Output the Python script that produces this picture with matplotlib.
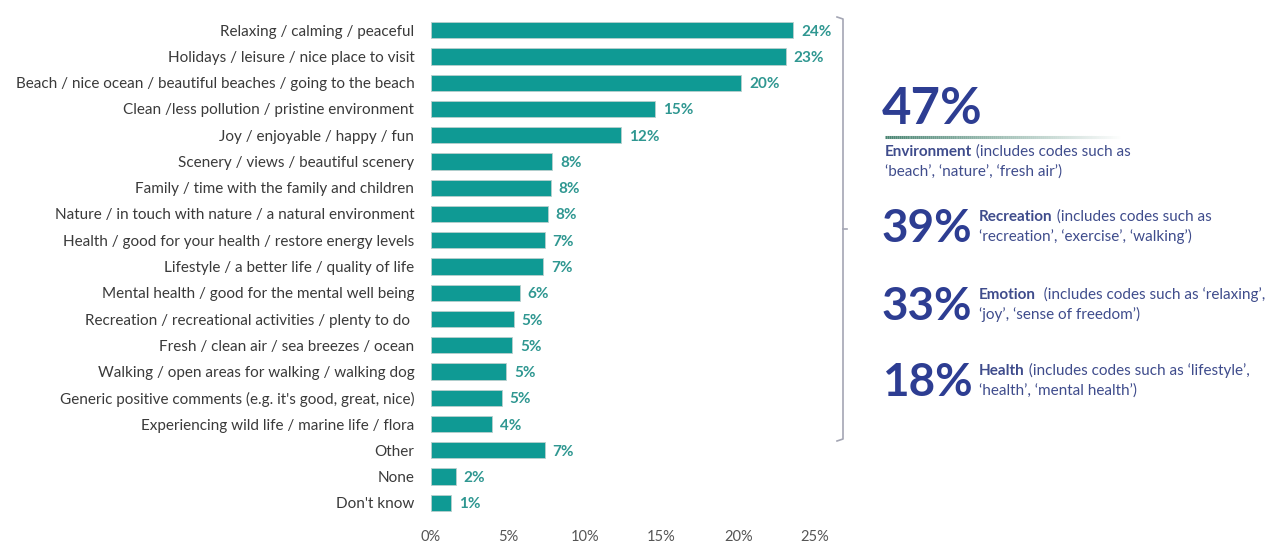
import matplotlib
matplotlib.use('Agg')
import matplotlib.pyplot as plt
from matplotlib.collections import LineCollection
from matplotlib.lines import Line2D
import numpy as np

plt.rcParams['font.family'] = ['Lato', 'DejaVu Sans']

categories = [
    'Relaxing / calming / peaceful',
    'Holidays / leisure / nice place to visit',
    'Beach / nice ocean / beautiful beaches / going to the beach',
    'Clean /less pollution / pristine environment',
    'Joy / enjoyable / happy / fun',
    'Scenery / views / beautiful scenery',
    'Family / time with the family and children',
    'Nature / in touch with nature / a natural environment',
    'Health / good for your health / restore energy levels',
    'Lifestyle / a better life / quality of life',
    'Mental health / good for the mental well being',
    'Recreation / recreational activities / plenty to do ',
    'Fresh / clean air / sea breezes / ocean',
    'Walking / open areas for walking / walking dog',
    "Generic positive comments (e.g. it's good, great, nice)",
    'Experiencing wild life / marine life / flora',
    'Other',
    'None',
    "Don't know",
]
shares = [23.6, 23.1, 20.2, 14.6, 12.4, 7.9, 7.8, 7.6, 7.4, 7.3,
          5.8, 5.4, 5.3, 4.9, 4.6, 4.0, 7.4, 1.6, 1.3]
x_ticks = [0, 5, 10, 15, 20, 25]

theme_pcts = ['47%', '39%', '33%', '18%']
theme_names = ['Environment', 'Recreation', 'Emotion', 'Health']
theme_rest = [
    [' (includes codes such as', '\u2018beach\u2019, \u2018nature\u2019, \u2018fresh air\u2019)'],
    [' (includes codes such as', '\u2018recreation\u2019, \u2018exercise\u2019, \u2018walking\u2019)'],
    ['  (includes codes such as \u2018relaxing\u2019,', '\u2018joy\u2019, \u2018sense of freedom\u2019)'],
    [' (includes codes such as \u2018lifestyle\u2019,', '\u2018health\u2019, \u2018mental health\u2019)'],
]

W, H = 1273, 544
BAR = '#0f9a94'
VAL = '#2f9791'
NAVY = '#2d3d92'
SLATE = '#3f4c8c'


def fx(px):
    return px / W


def fy(py):
    return 1 - py / H


fig = plt.figure(figsize=(W / 100, H / 100), dpi=100)
ax = fig.add_axes([fx(431), fy(516), fx(815) - fx(431), fy(17) - fy(516)])

y = np.arange(len(categories))
ax.barh(y, shares, height=0.62, color=BAR, edgecolor='#b9cfcd', linewidth=0.6)
for yi, v in zip(y, shares):
    ax.text(v + 0.5, yi, f'{round(v):d}%', va='center_baseline', ha='left',
            fontsize=11, fontweight='bold', color=VAL, clip_on=False)

ax.set_xlim(0, 25)
ax.set_ylim(len(categories) - 0.5, -0.5)
ax.set_yticks(y)
ax.set_yticklabels(categories, fontsize=11, color='#3a3a3a')
ax.set_xticks(x_ticks)
ax.set_xticklabels([f'{t}%' for t in x_ticks], fontsize=10.5, color='#555555')
ax.tick_params(axis='y', length=0, pad=12)
ax.tick_params(axis='x', length=0, pad=10)
for s in ax.spines.values():
    s.set_visible(False)

# bracket grouping the coded answers
bx = 843
gray = '#a4a6b4'
fig.add_artist(Line2D([fx(837), fx(bx), fx(bx), fx(837)],
                      [fy(17), fy(19), fy(439), fy(441)],
                      transform=fig.transFigure, color=gray, lw=1.2))
fig.add_artist(Line2D([fx(bx), fx(847)], [fy(229), fy(229)],
                      transform=fig.transFigure, color=gray, lw=1.2))

# headline figure with fading underline
fig.text(fx(882), fy(110), theme_pcts[0], fontsize=36.5, fontweight='bold',
         color=NAVY, va='center', ha='left')
n = 120
xs = np.linspace(fx(885), fx(1120), n + 1)
segs = [[(xs[i], fy(137)), (xs[i + 1], fy(137))] for i in range(n)]
cols = [(0.29, 0.52, 0.45, 1 - i / n) for i in range(n)]
fig.add_artist(LineCollection(segs, colors=cols, linewidths=2.2,
                              transform=fig.transFigure))

fig.canvas.draw()
renderer = fig.canvas.get_renderer()


def two_part(x, yb, bold, rest, size=11):
    t = fig.text(fx(x), fy(yb), bold, fontsize=size, fontweight='bold',
                 color=SLATE, va='baseline', ha='left')
    bb = t.get_window_extent(renderer)
    fig.text(fx(x + bb.width), fy(yb), rest, fontsize=size,
             color=SLATE, va='baseline', ha='left')


two_part(885, 156, theme_names[0], theme_rest[0][0])
fig.text(fx(885), fy(176), theme_rest[0][1], fontsize=11, color=SLATE,
         va='baseline', ha='left')

# remaining themes: big number with two description lines beside it
rows = [229, 307, 383]
for pct, name, rest, yc in zip(theme_pcts[1:], theme_names[1:], theme_rest[1:], rows):
    fig.text(fx(882), fy(yc), pct, fontsize=33, fontweight='bold',
             color=NAVY, va='center', ha='left')
    two_part(979, yc - 8, name, rest[0])
    fig.text(fx(979), fy(yc + 12), rest[1], fontsize=11, color=SLATE,
             va='baseline', ha='left')

fig.savefig('out.png', dpi=100, facecolor='white')
